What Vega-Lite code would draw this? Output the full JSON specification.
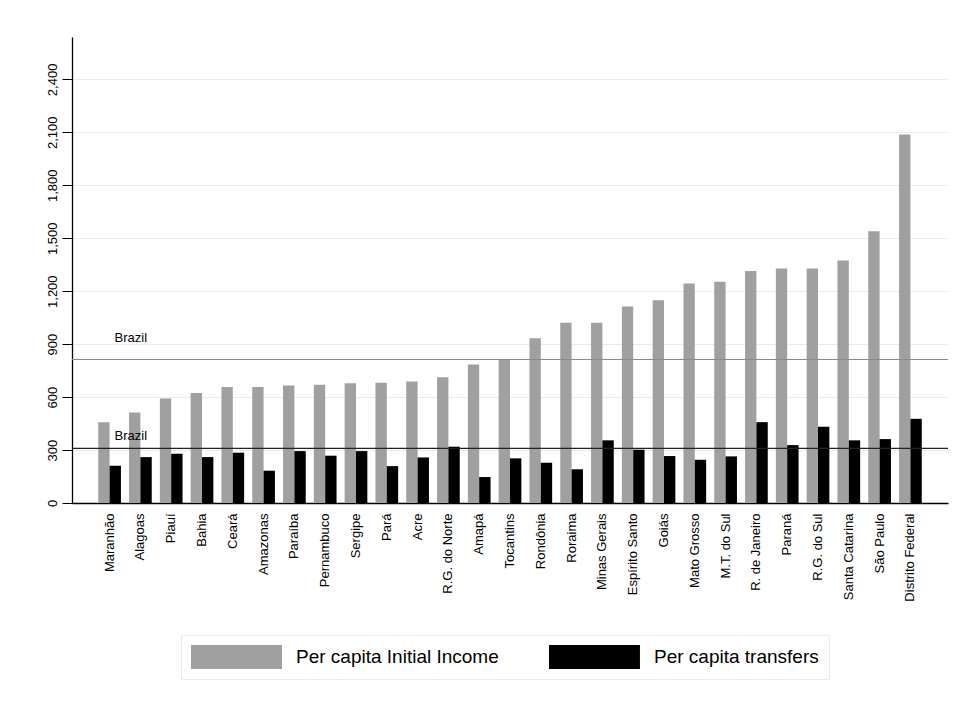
{
  "$schema": "https://vega.github.io/schema/vega-lite/v6.json",
  "width": 876,
  "height": 466,
  "autosize": "none",
  "padding": {"left": 72, "top": 37, "right": 11, "bottom": 204},
  "background": "white",
  "config": {"view": {"stroke": null}, "font": "Liberation Sans"},
  "datasets": {
    "bars": [
      {"state": "Maranhão", "series": "Per capita Initial Income", "value": 457},
      {"state": "Maranhão", "series": "Per capita transfers", "value": 211},
      {"state": "Alagoas", "series": "Per capita Initial Income", "value": 513},
      {"state": "Alagoas", "series": "Per capita transfers", "value": 260},
      {"state": "Piauí", "series": "Per capita Initial Income", "value": 592},
      {"state": "Piauí", "series": "Per capita transfers", "value": 279},
      {"state": "Bahia", "series": "Per capita Initial Income", "value": 623},
      {"state": "Bahia", "series": "Per capita transfers", "value": 260},
      {"state": "Ceará", "series": "Per capita Initial Income", "value": 657},
      {"state": "Ceará", "series": "Per capita transfers", "value": 285},
      {"state": "Amazonas", "series": "Per capita Initial Income", "value": 657},
      {"state": "Amazonas", "series": "Per capita transfers", "value": 183},
      {"state": "Paraíba", "series": "Per capita Initial Income", "value": 666},
      {"state": "Paraíba", "series": "Per capita transfers", "value": 294},
      {"state": "Pernambuco", "series": "Per capita Initial Income", "value": 670},
      {"state": "Pernambuco", "series": "Per capita transfers", "value": 268},
      {"state": "Sergipe", "series": "Per capita Initial Income", "value": 679},
      {"state": "Sergipe", "series": "Per capita transfers", "value": 294},
      {"state": "Pará", "series": "Per capita Initial Income", "value": 681},
      {"state": "Pará", "series": "Per capita transfers", "value": 209},
      {"state": "Acre", "series": "Per capita Initial Income", "value": 689},
      {"state": "Acre", "series": "Per capita transfers", "value": 258},
      {"state": "R.G. do Norte", "series": "Per capita Initial Income", "value": 713},
      {"state": "R.G. do Norte", "series": "Per capita transfers", "value": 319},
      {"state": "Amapá", "series": "Per capita Initial Income", "value": 785},
      {"state": "Amapá", "series": "Per capita transfers", "value": 147},
      {"state": "Tocantins", "series": "Per capita Initial Income", "value": 811},
      {"state": "Tocantins", "series": "Per capita transfers", "value": 253},
      {"state": "Rondônia", "series": "Per capita Initial Income", "value": 934},
      {"state": "Rondônia", "series": "Per capita transfers", "value": 228},
      {"state": "Roraima", "series": "Per capita Initial Income", "value": 1021},
      {"state": "Roraima", "series": "Per capita transfers", "value": 191},
      {"state": "Minas Gerais", "series": "Per capita Initial Income", "value": 1021},
      {"state": "Minas Gerais", "series": "Per capita transfers", "value": 355},
      {"state": "Espírito Santo", "series": "Per capita Initial Income", "value": 1113},
      {"state": "Espírito Santo", "series": "Per capita transfers", "value": 302},
      {"state": "Goiás", "series": "Per capita Initial Income", "value": 1149},
      {"state": "Goiás", "series": "Per capita transfers", "value": 266},
      {"state": "Mato Grosso", "series": "Per capita Initial Income", "value": 1243},
      {"state": "Mato Grosso", "series": "Per capita transfers", "value": 245},
      {"state": "M.T. do Sul", "series": "Per capita Initial Income", "value": 1253},
      {"state": "M.T. do Sul", "series": "Per capita transfers", "value": 264},
      {"state": "R. de Janeiro", "series": "Per capita Initial Income", "value": 1315},
      {"state": "R. de Janeiro", "series": "Per capita transfers", "value": 458},
      {"state": "Paraná", "series": "Per capita Initial Income", "value": 1328},
      {"state": "Paraná", "series": "Per capita transfers", "value": 328},
      {"state": "R.G. do Sul", "series": "Per capita Initial Income", "value": 1328},
      {"state": "R.G. do Sul", "series": "Per capita transfers", "value": 432},
      {"state": "Santa Catarina", "series": "Per capita Initial Income", "value": 1374},
      {"state": "Santa Catarina", "series": "Per capita transfers", "value": 355},
      {"state": "São Paulo", "series": "Per capita Initial Income", "value": 1540},
      {"state": "São Paulo", "series": "Per capita transfers", "value": 362},
      {"state": "Distrito Federal", "series": "Per capita Initial Income", "value": 2087},
      {"state": "Distrito Federal", "series": "Per capita transfers", "value": 477}
    ],
    "refs": [
      {"series": "Per capita Initial Income", "value": 813, "label": "Brazil", "labelValue": 935},
      {"series": "Per capita transfers", "value": 310, "label": "Brazil", "labelValue": 381}
    ]
  },
  "layer": [
    {
      "data": {"name": "bars"},
      "mark": {"type": "bar"},
      "encoding": {
        "x": {
          "field": "state", "type": "nominal", "sort": null,
          "scale": {"paddingInner": 0.263, "paddingOuter": 0.852},
          "axis": {"title": null, "labelAngle": -90, "labelAlign": "right", "labelBaseline": "middle",
                   "labelFontSize": 13, "labelColor": "#000000", "ticks": false, "labelPadding": 10,
                   "domain": true, "domainColor": "#000000", "domainWidth": 1.3, "grid": false}
        },
        "xOffset": {
          "field": "series", "type": "nominal",
          "sort": ["Per capita Initial Income", "Per capita transfers"],
          "scale": {"paddingInner": 0, "paddingOuter": 0}
        },
        "y": {
          "field": "value", "type": "quantitative", "title": null,
          "scale": {"domain": [0, 2640], "nice": false},
          "axis": {"values": [0, 300, 600, 900, 1200, 1500, 1800, 2100, 2400], "format": ",.0f",
                   "labelAngle": -90, "labelAlign": "center", "labelBaseline": "bottom",
                   "labelFontSize": 13, "labelColor": "#000000", "labelPadding": 3,
                   "tickSize": 10, "tickColor": "#000000", "tickWidth": 1,
                   "domainColor": "#000000", "domainWidth": 1.3,
                   "grid": true, "gridColor": "#e3ecef", "gridWidth": 1}
        },
        "color": {
          "field": "series", "type": "nominal",
          "scale": {"domain": ["Per capita Initial Income", "Per capita transfers"], "range": ["#a0a0a0", "#000000"]},
          "legend": {"title": null, "orient": "none", "legendX": 109, "legendY": 598, "direction": "horizontal",
                     "symbolType": "M-1,-1H6.58V1H-1Z", "symbolSize": 576, "symbolStrokeWidth": 0,
                     "symbolOpacity": 1,
                     "labelFontSize": 19, "labelColor": "#000000", "labelOffset": 81, "labelLimit": 400,
                     "columnPadding": 50, "padding": 10, "strokeColor": "#e6ecee", "fillColor": "#ffffff"}
        }
      }
    },
    {
      "data": {"name": "refs"},
      "transform": [{"filter": "datum.series == 'Per capita Initial Income'"}],
      "mark": {"type": "rule", "color": "#8a8a8a", "strokeWidth": 1.2},
      "encoding": {"y": {"field": "value", "type": "quantitative", "title": null}}
    },
    {
      "data": {"name": "refs"},
      "transform": [{"filter": "datum.series == 'Per capita transfers'"}],
      "mark": {"type": "rule", "color": "#222222", "strokeWidth": 1.2},
      "encoding": {"y": {"field": "value", "type": "quantitative", "title": null}}
    },
    {
      "data": {"name": "refs"},
      "mark": {"type": "text", "align": "left", "baseline": "middle", "dx": 5, "fontSize": 13, "color": "#000000"},
      "encoding": {
        "x": {"datum": "Maranhão", "type": "nominal"},
        "y": {"field": "labelValue", "type": "quantitative", "title": null},
        "text": {"field": "label"}
      }
    }
  ]
}
